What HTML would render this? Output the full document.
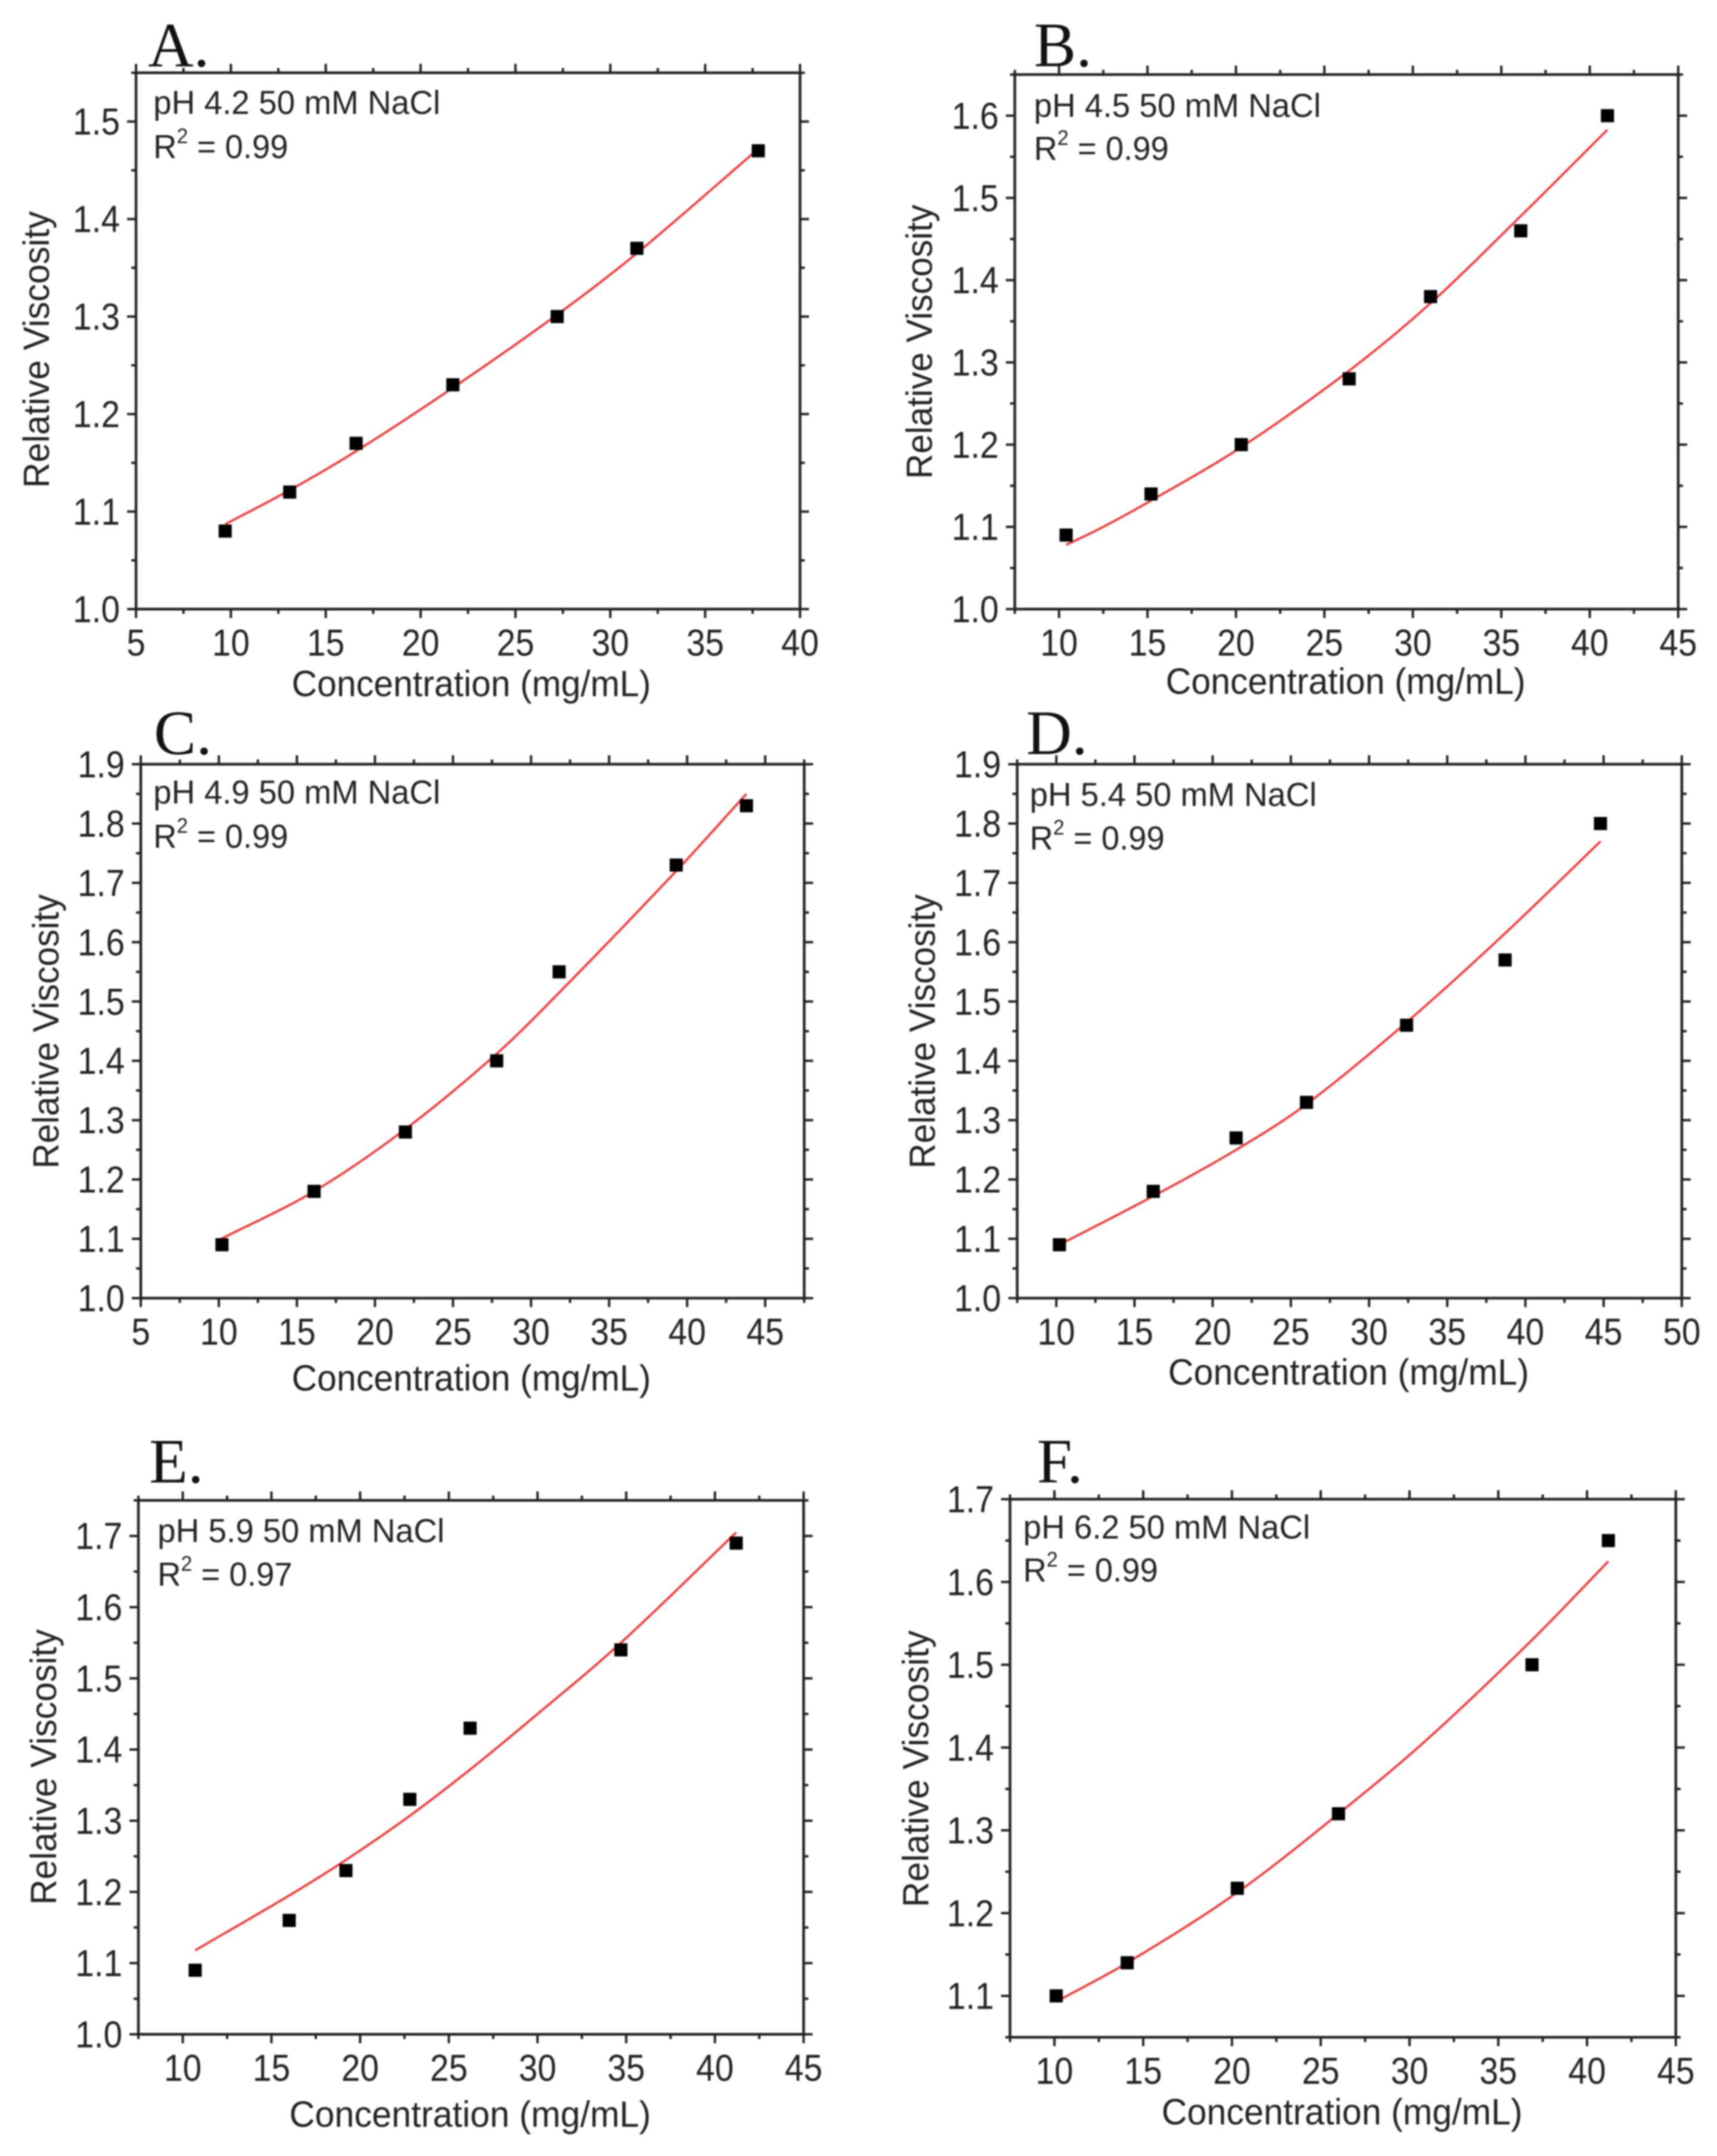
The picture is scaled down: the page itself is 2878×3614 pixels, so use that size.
<!DOCTYPE html>
<html>
<head>
<meta charset="utf-8">
<title>Relative viscosity vs concentration</title>
<style>
html,body{margin:0;padding:0;background:#fff;}
#chart{display:block;width:2878px;height:3614px;filter:blur(1.3px);}
text{font-family:"Liberation Sans",sans-serif;fill:#222;}
.letter{font-family:"Liberation Serif",serif;font-size:106px;fill:#111;}
</style>
</head>
<body>
<svg id="chart" xmlns="http://www.w3.org/2000/svg" width="2878" height="3614" viewBox="0 0 2878 3614"></svg>
<script>
// Panel A
const concA = [9.7, 13.1, 16.6, 21.7, 27.2, 31.4, 37.8];
const viscA = [1.08, 1.12, 1.17, 1.23, 1.30, 1.37, 1.47];
const fitConcA = [9.7, 13.1, 16.6, 21.7, 27.2, 31.4, 37.8];
const fitViscA = [1.087, 1.122, 1.162, 1.227, 1.302, 1.365, 1.472];
const xTicksA = [5, 10, 15, 20, 25, 30, 35, 40];
const yTicksA = ["1.0", "1.1", "1.2", "1.3", "1.4", "1.5"];
// Panel B
const concB = [10.4, 15.2, 20.3, 26.4, 31, 36.1, 41];
const viscB = [1.09, 1.14, 1.20, 1.28, 1.38, 1.46, 1.60];
const fitConcB = [10.4, 12.5, 15.2, 20.3, 26.4, 31, 36.1, 41];
const fitViscB = [1.078, 1.10, 1.132, 1.197, 1.29, 1.372, 1.478, 1.583];
const xTicksB = [10, 15, 20, 25, 30, 35, 40, 45];
const yTicksB = ["1.0", "1.1", "1.2", "1.3", "1.4", "1.5", "1.6"];
// Panel C
const concC = [10.2, 16.1, 21.95, 27.8, 31.8, 39.3, 43.8];
const viscC = [1.09, 1.18, 1.28, 1.40, 1.55, 1.73, 1.83];
const fitConcC = [10, 16.1, 21.95, 27.8, 31.8, 39.3, 43.8];
const fitViscC = [1.098, 1.18, 1.285, 1.412, 1.515, 1.72, 1.85];
const xTicksC = [5, 10, 15, 20, 25, 30, 35, 40, 45];
const yTicksC = ["1.0", "1.1", "1.2", "1.3", "1.4", "1.5", "1.6", "1.7", "1.8", "1.9"];
// Panel D
const concD = [10.2, 16.2, 21.5, 26, 32.4, 38.7, 44.8];
const viscD = [1.09, 1.18, 1.27, 1.33, 1.46, 1.57, 1.80];
const fitConcD = [10.2, 16.2, 21.5, 26, 32.4, 38.7, 44.8];
const fitViscD = [1.09, 1.172, 1.25, 1.327, 1.465, 1.615, 1.77];
const xTicksD = [10, 15, 20, 25, 30, 35, 40, 45, 50];
const yTicksD = ["1.0", "1.1", "1.2", "1.3", "1.4", "1.5", "1.6", "1.7", "1.8", "1.9"];
// Panel E
const concE = [10.7, 16, 19.2, 22.8, 26.2, 34.7, 41.2];
const viscE = [1.09, 1.16, 1.23, 1.33, 1.43, 1.54, 1.69];
const fitConcE = [10.7, 16, 19.2, 22.8, 26.2, 30, 34.7, 41.2];
const fitViscE = [1.118, 1.195, 1.245, 1.307, 1.372, 1.45, 1.55, 1.705];
const xTicksE = [10, 15, 20, 25, 30, 35, 40, 45];
const yTicksE = ["1.0", "1.1", "1.2", "1.3", "1.4", "1.5", "1.6", "1.7"];
// Panel F
const concF = [10.1, 14.1, 20.3, 26, 36.9, 41.2];
const viscF = [1.10, 1.14, 1.23, 1.32, 1.50, 1.65];
const fitConcF = [10.1, 14.1, 20.3, 26, 31, 36.9, 41.2];
const fitViscF = [1.093, 1.14, 1.225, 1.32, 1.41, 1.53, 1.625];
const xTicksF = [10, 15, 20, 25, 30, 35, 40, 45];
const yTicksF = ["1.1", "1.2", "1.3", "1.4", "1.5", "1.6", "1.7"];

const panels = [
 {id:"a",letter:"A.",note:"pH 4.2 50 mM NaCl",r2:"0.99",conc:concA,visc:viscA,fc:fitConcA,fv:fitViscA,xt:xTicksA,yt:yTicksA,
  xd:[5,40],yd:[1,1.55],box:[228,1341,122,1021],lp:[248,111],np:[257,191,265],xtp:[489,602,1167],ytp:[82,818,464]},
 {id:"b",letter:"B.",note:"pH 4.5 50 mM NaCl",r2:"0.99",conc:concB,visc:viscB,fc:fitConcB,fv:fitViscB,xt:xTicksB,yt:yTicksB,
  xd:[7.5,45],yd:[1,1.65],box:[1701,2813,125,1021],lp:[1733,111],np:[1733,196,268],xtp:[1954,603,1163],ytp:[1562,803,460]},
 {id:"c",letter:"C.",note:"pH 4.9 50 mM NaCl",r2:"0.99",conc:concC,visc:viscC,fc:fitConcC,fv:fitViscC,xt:xTicksC,yt:yTicksC,
  xd:[5,47.5],yd:[1,1.9],box:[236,1348,1281,2176],lp:[258,1264],np:[257,1347,1421],xtp:[489,602,2331],ytp:[98,1959,460]},
 {id:"d",letter:"D.",note:"pH 5.4 50 mM NaCl",r2:"0.99",conc:concD,visc:viscD,fc:fitConcD,fv:fitViscD,xt:xTicksD,yt:yTicksD,
  xd:[7.5,50],yd:[1,1.9],box:[1705,2819,1281,2176],lp:[1720,1264],np:[1726,1351,1424],xtp:[1958,605,2321],ytp:[1567,1959,460]},
 {id:"e",letter:"E.",note:"pH 5.9 50 mM NaCl",r2:"0.97",conc:concE,visc:viscE,fc:fitConcE,fv:fitViscE,xt:xTicksE,yt:yTicksE,
  xd:[7.5,45],yd:[1,1.75],box:[232,1347,2515,3410],lp:[250,2485],np:[264,2585,2658],xtp:[485,606,3565],ytp:[94,3193,462]},
 {id:"f",letter:"F.",note:"pH 6.2 50 mM NaCl",r2:"0.99",conc:concF,visc:viscF,fc:fitConcF,fv:fitViscF,xt:xTicksF,yt:yTicksF,
  xd:[7.5,45],yd:[1.05,1.7],box:[1693,2809,2513,3415],lp:[1738,2485],np:[1715,2579,2651],xtp:[1947,605,3561],ytp:[1556,3197,464]}
];

const SVGNS = "http://www.w3.org/2000/svg";
const INK = "#222";
const svg = document.getElementById("chart");

function make(parent, tag, attrs, txt){
  const el = document.createElementNS(SVGNS, tag);
  for(const k in attrs){ el.setAttribute(k, attrs[k]); }
  if(txt !== undefined){ el.textContent = txt; }
  parent.appendChild(el);
  return el;
}

// natural Liberation Sans width of a numeric label, in em
function numWidth(s){
  let w = 0;
  for(const ch of s){ w += ch === "." ? 0.278 : 0.556; }
  return w;
}

function smoothPath(pts){
  const slope = function(a,b){ return (b[1]-a[1])/(b[0]-a[0]); };
  let d = "M" + pts[0][0] + " " + pts[0][1];
  for(let i=0;i<pts.length-1;i++){
    const p0 = pts[Math.max(i-1,0)], p1 = pts[i], p2 = pts[i+1], p3 = pts[Math.min(i+2,pts.length-1)];
    const dx = p2[0]-p1[0];
    const m1 = slope(p0,p2), m2 = slope(p1,p3);
    d += " C" + (p1[0]+dx/3) + " " + (p1[1]+m1*dx/3) + " " + (p2[0]-dx/3) + " " + (p2[1]-m2*dx/3) + " " + p2[0] + " " + p2[1];
  }
  return d;
}

panels.forEach(function(p){
  const [L,R,T,B] = p.box;
  const sx = v => L + (v-p.xd[0])/(p.xd[1]-p.xd[0])*(R-L);
  const sy = v => B - (v-p.yd[0])/(p.yd[1]-p.yd[0])*(B-T);

  const g = make(svg, "g", {});
  
  

  const letter = make(g, "text", {x:p.lp[0], y:p.lp[1], class:"letter"}, p.letter);
  
  

  const frame = make(g, "rect", {x:L, y:T, width:R-L, height:B-T, fill:"none", stroke:INK, "stroke-width":4.5});
  
  

  // minor + major ticks on all four sides
  const xMajor = p.xt.map(Number);
  for(let v=p.xd[0]; v<=p.xd[1]+1e-6; v+=2.5){
    const isMajor = xMajor.some(m => Math.abs(m-v)<1e-6);
    const len = isMajor ? 15 : 8;
    const x = sx(v);
    const tb = make(g, "line", {x1:x, x2:x, y1:B, y2:B+len, stroke:INK, "stroke-width":4});
    
    
    const tt = make(g, "line", {x1:x, x2:x, y1:T, y2:T-len, stroke:INK, "stroke-width":4});
    
    
  }
  const yMajor = p.yt.map(Number);
  for(let v=p.yd[0]; v<=p.yd[1]+1e-6; v+=0.05){
    const isMajor = yMajor.some(m => Math.abs(m-v)<1e-6);
    const len = isMajor ? 15 : 8;
    const y = sy(v);
    const tl = make(g, "line", {x1:L, x2:L-len, y1:y, y2:y, stroke:INK, "stroke-width":4});
    
    
    const tr = make(g, "line", {x1:R, x2:R+len, y1:y, y2:y, stroke:INK, "stroke-width":4});
    
    
  }

  const TICK_FS = 63, TICK_SQUEEZE = 0.9;
  p.xt.forEach(function(v){
    const s = String(v);
    const t = make(g, "text", {x:sx(Number(v)), y:B+78, "text-anchor":"middle", "font-size":TICK_FS, textLength:numWidth(s)*TICK_FS*TICK_SQUEEZE, lengthAdjust:"spacingAndGlyphs"}, s);
    
    
  });
  p.yt.forEach(function(v){
    const t = make(g, "text", {x:L-27, y:sy(Number(v))+22, "text-anchor":"end", "font-size":TICK_FS, textLength:numWidth(v)*TICK_FS*TICK_SQUEEZE, lengthAdjust:"spacingAndGlyphs"}, v);
    
    
  });

  const xTitle = make(g, "text", {x:p.xtp[0], y:p.xtp[2], "font-size":61, textLength:p.xtp[1], lengthAdjust:"spacingAndGlyphs"}, "Concentration (mg/mL)");
  
  

  const yTitle = make(g, "text", {transform:"translate("+p.ytp[0]+" "+p.ytp[1]+") rotate(-90)", x:0, y:0, "font-size":61, textLength:p.ytp[2], lengthAdjust:"spacingAndGlyphs"}, "Relative Viscosity");
  
  

  const note = make(g, "text", {x:p.np[0], y:p.np[1], "font-size":56, textLength:481, lengthAdjust:"spacingAndGlyphs"}, p.note);
  
  

  const r2 = make(g, "text", {x:p.np[0], y:p.np[2], "font-size":56, textLength:226, lengthAdjust:"spacingAndGlyphs"});
  
  
  make(r2, "tspan", {}, "R");
  make(r2, "tspan", {dy:-25, "font-size":35}, "2");
  make(r2, "tspan", {dy:25}, " = " + p.r2);

  const fit = make(g, "path", {d:smoothPath(p.fc.map((c,i)=>[sx(c), sy(p.fv[i])])), fill:"none", stroke:"#f23030", "stroke-width":3.6});
  
  

  p.conc.forEach(function(c,i){
    const m = make(g, "rect", {x:sx(c)-11, y:sy(p.visc[i])-11, width:22, height:22, fill:"#000"});
    
    
  });
});
</script>
</body>
</html>
